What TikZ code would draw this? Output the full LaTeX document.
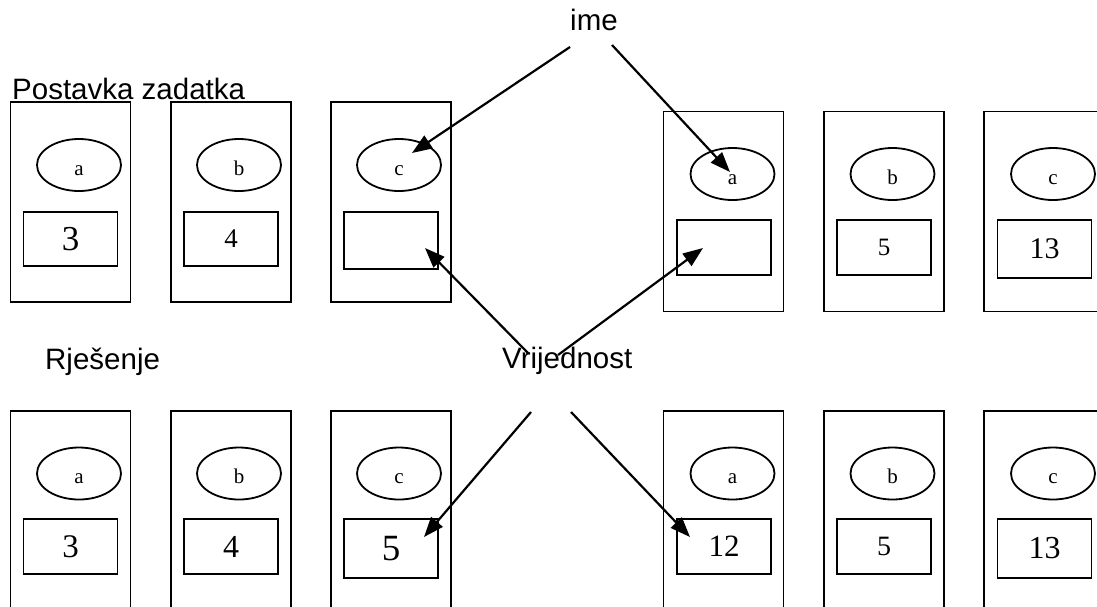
\documentclass[tikz,border=0pt]{standalone}
\usepackage{fontspec}
\setmainfont{Liberation Serif}
\newfontfamily\lsans{Liberation Sans}
\usetikzlibrary{arrows.meta,shapes.geometric}
\tikzset{
  outerbox/.style={draw, rectangle, line width=1.8pt, minimum width=120pt, minimum height=200pt, inner sep=0pt},
  namebox/.style={draw, ellipse, line width=1.8pt, minimum width=84pt, minimum height=52pt, inner sep=0pt,
     text height=20pt, text depth=0pt, font=\fontsize{21}{21}\selectfont},
  valbox/.style={draw, rectangle, line width=1.8pt, minimum width=94pt, inner sep=0pt},
  lbl/.style={font=\lsans\fontsize{29.5}{34}\selectfont, anchor=base west, inner sep=0pt},
  arr/.style={-{Triangle[length=20pt,width=15pt]}, line width=2.2pt},
  fs/.style={font=\fontsize{#1}{#1}\selectfont}
}
\begin{document}
\begin{tikzpicture}[x=1pt,y=-1pt]
\useasboundingbox (0,0) rectangle (1097,606);
\clip (0,0) rectangle (1097,606);
% ---- top row, left group
\node[outerbox] (b1) at (70.5,202) {};
\node[outerbox] (b2) at (231,202) {};
\node[outerbox] (b3) at (391,202) {};
\node[namebox] (e1) at (79,165) {a};
\node[namebox] (e2) at (239,165) {b};
\node[namebox] (e3) at (399,165) {c};
\node[valbox, minimum height=54pt, fs=35] (v1) at (70.5,239) {3};
\node[valbox, minimum height=54pt, fs=27] (v2) at (231,239) {4};
\node[valbox, minimum height=57pt] (v3) at (391,240.5) {};
% ---- top row, right group
\node[outerbox] (b4) at (723.5,211.5) {};
\node[outerbox] (b5) at (884,211.5) {};
\node[outerbox] (b6) at (1044,211.5) {};
\node[namebox] (e4) at (732.5,174) {a};
\node[namebox] (e5) at (892.5,174) {b};
\node[namebox] (e6) at (1053,174) {c};
\node[valbox, minimum height=55pt] (v4) at (724,247.5) {};
\node[valbox, minimum height=55pt, fs=25] (v5) at (884,247.5) {5};
\node[valbox, minimum height=58pt, fs=30] (v6) at (1044.5,249) {13};
% ---- bottom row
\node[outerbox] (c1) at (70.5,511) {};
\node[outerbox] (c2) at (231,511) {};
\node[outerbox] (c3) at (391,511) {};
\node[outerbox] (c4) at (723.5,511) {};
\node[outerbox] (c5) at (884,511) {};
\node[outerbox] (c6) at (1044,511) {};
\node[namebox] (f1) at (79,473.5) {a};
\node[namebox] (f2) at (239,473.5) {b};
\node[namebox] (f3) at (399,473.5) {c};
\node[namebox] (f4) at (732.5,473.5) {a};
\node[namebox] (f5) at (892.5,473.5) {b};
\node[namebox] (f6) at (1053,473.5) {c};
\node[valbox, minimum height=55pt, fs=33] (w1) at (70.5,546.5) {3};
\node[valbox, minimum height=55pt, fs=32] (w2) at (231,546.5) {4};
\node[valbox, minimum height=59pt, fs=37] (w3) at (391,548.5) {5};
\node[valbox, minimum height=55pt, fs=31] (w4) at (724,546.5) {12};
\node[valbox, minimum height=55pt, fs=28] (w5) at (884,546.5) {5};
\node[valbox, minimum height=59pt, fs=32] (w6) at (1044.5,548.5) {13};
% ---- labels
\node[lbl] (t0) at (12,99) {Postavka zadatka};
\node[lbl] (t1) at (45,369) {Rješenje};
\node[lbl] (t2) at (502,368) {Vrijednost};
\node[lbl] (t3) at (570,30) {ime};
% ---- arrow end points
\coordinate (s1) at (570,47);  \coordinate (p1) at (412,153);
\coordinate (s2) at (612,45);  \coordinate (p2) at (730,172);
\coordinate (s3) at (528,353); \coordinate (p3) at (425,248);
\coordinate (s4) at (558,355); \coordinate (p4) at (703,248);
\coordinate (s5) at (531,412); \coordinate (p5) at (424,537);
\coordinate (s6) at (571,412); \coordinate (p6) at (690,537);
\draw[arr] (s1) -- (p1);
\draw[arr] (s2) -- (p2);
\draw[arr] (s3) -- (p3);
\draw[arr] (s4) -- (p4);
\draw[arr] (s5) -- (p5);
\draw[arr] (s6) -- (p6);
\end{tikzpicture}
\end{document}
